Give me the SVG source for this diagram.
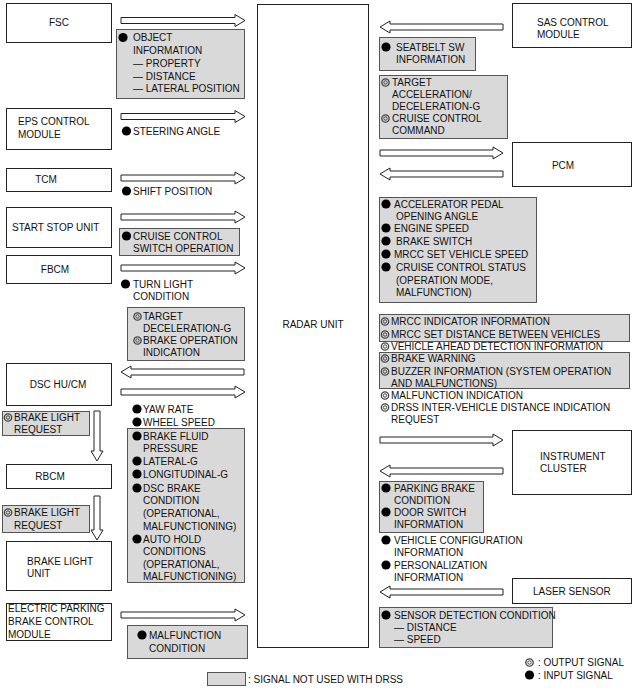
<svg xmlns="http://www.w3.org/2000/svg" width="634" height="688" viewBox="0 0 634 688">
<style>
.box{fill:#fff;stroke:#222;stroke-width:1}
.gray{fill:#d9d9d9;stroke:#555;stroke-width:1}
.arr{fill:#fff;stroke:#222;stroke-width:1}
text{font-family:"Liberation Sans",Arial,"DejaVu Sans",sans-serif;font-size:10px;fill:#111}
.c{text-anchor:middle}
</style>
<defs>
<circle id="in" r="4.6" fill="#000"/>
<g id="out" fill="none" stroke="#444"><circle r="3.7" stroke-width="1.3"/><circle r="1.7" stroke-width="1"/></g>
</defs>
<rect width="634" height="688" fill="#fff"/>
<g id="connectors">
<path class="arr" d="M121,17.5H235V14.5L245,20.5L235,26.5V23.5H121Z"/>
<path class="arr" d="M121,113.5H235V110.5L245,116.5L235,122.5V119.5H121Z"/>
<path class="arr" d="M121,175H235V172L245,178L235,184V181H121Z"/>
<path class="arr" d="M121,214H235V211L245,217L235,223V220H121Z"/>
<path class="arr" d="M121,265H235V262L245,268L235,274V271H121Z"/>
<path class="arr" d="M244,369H131V366L121,372L131,378V375H244Z"/>
<path class="arr" d="M121,389H235V386L245,392L235,398V395H121Z"/>
<path class="arr" d="M121,612H235V609L245,615L235,621V618H121Z"/>
<path class="arr" d="M94,411V451H91L97,461L103,451H100V411Z"/>
<path class="arr" d="M94,496V530H91L97,540L103,530H100V496Z"/>
<path class="arr" d="M503,24H390V21L380,27L390,33V30H503Z"/>
<path class="arr" d="M380,150H493V147L503,153L493,159V156H380Z"/>
<path class="arr" d="M503,171H390V168L380,174L390,180V177H503Z"/>
<path class="arr" d="M380,437H493V434L503,440L493,446V443H380Z"/>
<path class="arr" d="M503,468H390V465L380,471L390,477V474H503Z"/>
<path class="arr" d="M503,589H390V586L380,592L390,598V595H503Z"/>
</g>
<g id="radar"><rect class="box" x="257.5" y="4.5" width="111" height="643"/><text class="c" x="313" y="328">RADAR UNIT</text></g>
<g id="fsc"><rect class="box" x="6.5" y="3.5" width="105" height="39"/><text class="c" x="59" y="26">FSC</text></g>
<g id="eps"><rect class="box" x="6.5" y="108.5" width="105" height="41"/><text x="18" y="125">EPS CONTROL</text><text x="18" y="138">MODULE</text></g>
<g id="tcm"><rect class="box" x="6.5" y="168.5" width="105" height="23"/><text class="c" x="46" y="183">TCM</text></g>
<g id="ssu"><rect class="box" x="6.5" y="207.5" width="105" height="40"/><text x="12" y="231">START STOP UNIT</text></g>
<g id="fbcm"><rect class="box" x="6.5" y="255.5" width="105" height="28"/><text class="c" x="55" y="273">FBCM</text></g>
<g id="dsc"><rect class="box" x="6.5" y="363.5" width="105" height="42"/><text class="c" x="58" y="388">DSC HU/CM</text></g>
<g id="rbcm"><rect class="box" x="6.5" y="464.5" width="105" height="24"/><text class="c" x="50" y="480">RBCM</text></g>
<g id="blu"><rect class="box" x="6.5" y="541.5" width="105" height="49"/><text x="27" y="565">BRAKE LIGHT</text><text x="27" y="577">UNIT</text></g>
<g id="epb"><rect class="box" x="6.5" y="603.5" width="105" height="37"/><text x="8" y="612">ELECTRIC PARKING</text><text x="8" y="625">BRAKE CONTROL</text><text x="8" y="638">MODULE</text></g>
<g id="sas"><rect class="box" x="512.5" y="3.5" width="119" height="44"/><text x="537" y="26">SAS CONTROL</text><text x="537" y="38">MODULE</text></g>
<g id="pcm"><rect class="box" x="512.5" y="142.5" width="119" height="44"/><text class="c" x="563" y="169">PCM</text></g>
<g id="ic"><rect class="box" x="512.5" y="430.5" width="119" height="64"/><text x="540" y="460">INSTRUMENT</text><text x="540" y="472">CLUSTER</text></g>
<g id="laser"><rect class="box" x="512.5" y="578.5" width="119" height="25"/><text x="533" y="595">LASER SENSOR</text></g>
<g id="signals">
<rect class="gray" x="116.5" y="29.5" width="128" height="69"/>
<use href="#in" x="123" y="37.5"/><text x="133" y="41">OBJECT</text>
<text x="133" y="54">INFORMATION</text>
<text x="133" y="67">— PROPERTY</text>
<text x="133" y="80">— DISTANCE</text>
<text x="133" y="92">— LATERAL POSITION</text>
<use href="#in" x="126.5" y="131"/><text x="133" y="135">STEERING ANGLE</text>
<use href="#in" x="126.5" y="191"/><text x="133" y="195">SHIFT POSITION</text>
<rect class="gray" x="119.5" y="228.5" width="120" height="27"/>
<use href="#in" x="126.5" y="236"/><text x="133" y="240">CRUISE CONTROL</text>
<text x="133" y="252">SWITCH OPERATION</text>
<use href="#in" x="125.5" y="284"/><text x="133" y="288">TURN LIGHT</text>
<text x="133" y="300">CONDITION</text>
<rect class="gray" x="127.5" y="307.5" width="117" height="53"/>
<use href="#out" x="137.5" y="316.5"/><text x="143" y="320">TARGET</text>
<text x="143" y="332">DECELERATION-G</text>
<use href="#out" x="137.5" y="340.5"/><text x="143" y="344">BRAKE OPERATION</text>
<text x="143" y="356">INDICATION</text>
<rect class="gray" x="2.5" y="411.5" width="87" height="24"/>
<use href="#out" x="8" y="417.5"/><text x="14" y="421">BRAKE LIGHT</text>
<text x="14" y="433">REQUEST</text>
<rect class="gray" x="2.5" y="505.5" width="87" height="27"/>
<use href="#out" x="8" y="512.5"/><text x="14" y="516">BRAKE LIGHT</text>
<text x="14" y="529">REQUEST</text>
<use href="#in" x="137" y="409"/><text x="143" y="413">YAW RATE</text>
<use href="#in" x="137" y="422"/><text x="143" y="426">WHEEL SPEED</text>
<rect class="gray" x="127.5" y="428.5" width="117" height="154"/>
<use href="#in" x="137" y="436"/><text x="143" y="440">BRAKE FLUID</text>
<text x="143" y="452">PRESSURE</text>
<use href="#in" x="137" y="461"/><text x="143" y="465">LATERAL-G</text>
<use href="#in" x="137" y="474"/><text x="143" y="478">LONGITUDINAL-G</text>
<use href="#in" x="137" y="488"/><text x="143" y="492">DSC BRAKE</text>
<text x="143" y="504">CONDITION</text>
<text x="143" y="517">(OPERATIONAL,</text>
<text x="143" y="530">MALFUNCTIONING)</text>
<use href="#in" x="137" y="539"/><text x="143" y="543">AUTO HOLD</text>
<text x="143" y="555">CONDITIONS</text>
<text x="143" y="568">(OPERATIONAL,</text>
<text x="143" y="580">MALFUNCTIONING)</text>
<rect class="gray" x="127.5" y="625.5" width="120" height="33"/>
<use href="#in" x="142" y="635"/><text x="149" y="639">MALFUNCTION</text>
<text x="149" y="652">CONDITION</text>
<rect class="gray" x="379.5" y="37.5" width="96" height="33"/>
<use href="#in" x="386" y="47"/><text x="396" y="51">SEATBELT SW</text>
<text x="396" y="63">INFORMATION</text>
<rect class="gray" x="379.5" y="75.5" width="128" height="63"/>
<use href="#out" x="385.5" y="82.5"/><text x="392" y="86">TARGET</text>
<text x="392" y="98">ACCELERATION/</text>
<text x="392" y="110">DECELERATION-G</text>
<use href="#out" x="385.5" y="118.5"/><text x="392" y="122">CRUISE CONTROL</text>
<text x="392" y="134">COMMAND</text>
<rect class="gray" x="379.5" y="197.5" width="157" height="105"/>
<use href="#in" x="386" y="204"/><text x="394" y="208">ACCELERATOR PEDAL</text>
<text x="396" y="220">OPENING ANGLE</text>
<use href="#in" x="386" y="228"/><text x="394" y="232">ENGINE SPEED</text>
<use href="#in" x="386" y="241"/><text x="396" y="245">BRAKE SWITCH</text>
<use href="#in" x="386" y="254"/><text x="394" y="258">MRCC SET VEHICLE SPEED</text>
<use href="#in" x="386" y="267"/><text x="396" y="271">CRUISE CONTROL STATUS</text>
<text x="396" y="284">(OPERATION MODE,</text>
<text x="396" y="296">MALFUNCTION)</text>
<rect class="gray" x="379.5" y="314.5" width="250" height="27"/>
<use href="#out" x="385" y="321.5"/><text x="391" y="325">MRCC INDICATOR INFORMATION</text>
<use href="#out" x="385" y="334.5"/><text x="391" y="338">MRCC SET DISTANCE BETWEEN VEHICLES</text>
<use href="#out" x="385" y="346.5"/><text x="391" y="350">VEHICLE AHEAD DETECTION INFORMATION</text>
<rect class="gray" x="379.5" y="352.5" width="250" height="36"/>
<use href="#out" x="385" y="358.5"/><text x="391" y="362">BRAKE WARNING</text>
<use href="#out" x="385" y="371.5"/><text x="391" y="375">BUZZER INFORMATION (SYSTEM OPERATION</text>
<text x="391" y="387">AND MALFUNCTIONS)</text>
<use href="#out" x="385" y="395.5"/><text x="391" y="399">MALFUNCTION INDICATION</text>
<use href="#out" x="385" y="407.5"/><text x="391" y="411">DRSS INTER-VEHICLE DISTANCE INDICATION</text>
<text x="391" y="423">REQUEST</text>
<rect class="gray" x="379.5" y="481.5" width="104" height="51"/>
<use href="#in" x="386" y="488"/><text x="394" y="492">PARKING BRAKE</text>
<text x="394" y="504">CONDITION</text>
<use href="#in" x="386" y="512"/><text x="394" y="516">DOOR SWITCH</text>
<text x="394" y="528">INFORMATION</text>
<use href="#in" x="386" y="540"/><text x="394" y="544">VEHICLE CONFIGURATION</text>
<text x="394" y="556">INFORMATION</text>
<use href="#in" x="386" y="565"/><text x="394" y="569">PERSONALIZATION</text>
<text x="394" y="581">INFORMATION</text>
<rect class="gray" x="379.5" y="607.5" width="173" height="40"/>
<use href="#in" x="386" y="615"/><text x="394" y="619">SENSOR DETECTION CONDITION</text>
<text x="394" y="631">— DISTANCE</text>
<text x="394" y="643">— SPEED</text>
</g>
<g id="legend">
<rect class="gray" x="207.5" y="672.5" width="38" height="13"/>
<text x="248" y="683">: SIGNAL NOT USED WITH DRSS</text>
<use href="#out" x="529.5" y="662.5"/><text x="538" y="666">: OUTPUT SIGNAL</text>
<use href="#in" x="529.5" y="675"/><text x="538" y="679">: INPUT SIGNAL</text>
</g>
</svg>
